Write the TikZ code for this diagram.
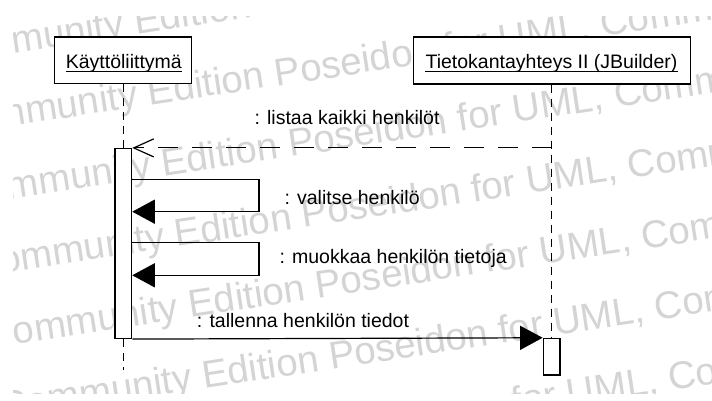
\documentclass[tikz,border=0pt]{standalone}
\usepackage{fontspec}
\setmainfont{Liberation Sans}
\usetikzlibrary{arrows.meta}
\begin{document}
\begin{tikzpicture}[x=1pt,y=-1pt,
  wm/.style={text=black!17, font=\fontsize{38.5}{40}\selectfont, inner sep=0pt, rotate=8.6, anchor=base west},
  objbox/.style={draw, line width=1.2pt, fill=white, inner sep=0pt},
  lbl/.style={font=\fontsize{19.5}{22}\selectfont, inner sep=0pt, anchor=base west},
  ulabel/.style={font=\fontsize{19.5}{22}\selectfont, inner sep=0pt, anchor=base},
  uline/.style={line width=1.2pt},
  lifeline/.style={line width=1.2pt, dash pattern=on 8pt off 6pt},
  actbar/.style={draw, line width=1.2pt, fill=white, inner sep=0pt, minimum width=16.7pt},
  call/.style={line width=1.2pt, -{Triangle[length=22.5pt,width=24pt]}},
  reply/.style={line width=1.2pt, dash pattern=on 20pt off 14pt, -{Straight Barb[length=20pt,width=18pt]}},
]
\useasboundingbox (0,0) rectangle (712,401);
\fill[white] (0,0) rectangle (712,401);

% background watermark rows; "Edition" starts at (136+13.6k, 34.5+70.8k) on row k
\begin{scope}
  \clip (13,17) rectangle (712,393);
  \foreach \k in {0,...,6} {
    \pgfmathsetmacro\ex{136+13.6*\k-203.1}
    \pgfmathsetmacro\ey{34.5+70.8*\k+30.7}
    \node[wm] at (\ex,\ey) {Community Edition Poseidon for UML, Community Edition Poseidon for UML, Community};
  }
\end{scope}

% objects, activations and lifelines
\coordinate (end1) at (123.3,370);
\node[objbox, minimum width=137pt, minimum height=46.5pt] (b1) at (123.3,60.3) {};
\node[objbox, minimum width=277pt, minimum height=47pt] (b2) at (551.6,60.5) {};
\node[actbar, minimum height=190pt] (act1) at (123.3,243.5) {};
\node[actbar, minimum height=36.7pt] (act2) at (551.6,356.7) {};
\draw[lifeline] (b1.south) -- (act1.north);
\draw[lifeline] (act1.south) -- (end1);
\draw[lifeline] (b2.south) -- (act2.north);

% object names
\node[ulabel] (n1) at (123.8,68.3) {Käyttöliittymä};
\node[ulabel] (n2) at (551.5,68.3) {Tietokantayhteys II (JBuilder)};
\draw[uline] ([yshift=-3.4pt]n1.base west) -- ([yshift=-3.4pt]n1.base east);
\draw[uline] ([yshift=-3.4pt]n2.base west) -- ([yshift=-3.4pt]n2.base east);

% messages
\draw[reply] (act2.north |- act1.north) -- (act1.north east);
\node[lbl] (m1) at (254.3,125) {: listaa kaikki henkilöt};

\coordinate (s1) at (259,179.3);
\coordinate (s1b) at (259,211.7);
\draw[call] (act1.east |- s1) -- (s1) -- (s1b) -- (act1.east |- s1b);
\node[lbl] (m2) at (284.3,204) {: valitse henkilö};

\coordinate (s2) at (259,242.3);
\coordinate (s2b) at (259,275.3);
\draw[call] (act1.east |- s2) -- (s2) -- (s2b) -- (act1.east |- s2b);
\node[lbl] (m3) at (279.3,263) {: muokkaa henkilön tietoja};

\draw[call] (act1.south east) -- (act2.north west);
\node[lbl] (m4) at (196.7,327) {: tallenna henkilön tiedot};
\end{tikzpicture}
\end{document}
